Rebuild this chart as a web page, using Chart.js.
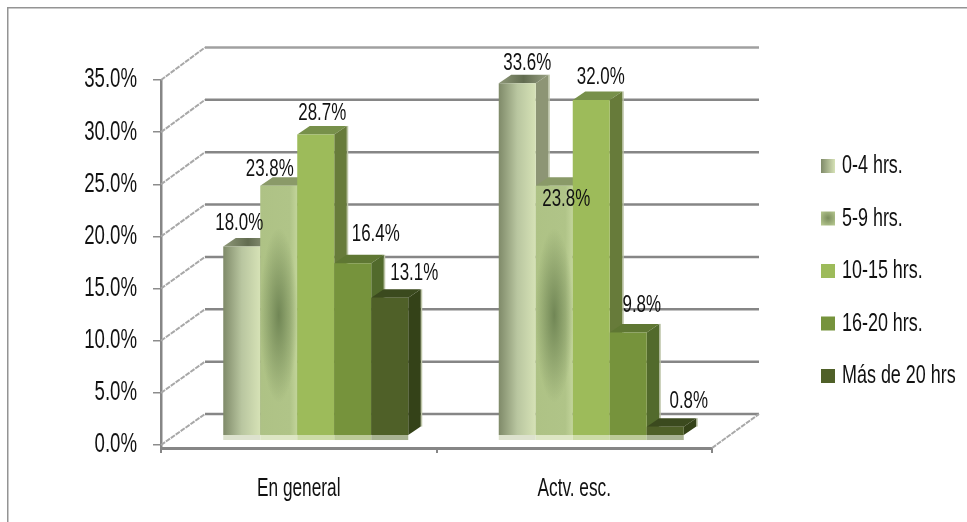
<!DOCTYPE html>
<html>
<head>
<meta charset="utf-8">
<style>
  html, body { margin: 0; padding: 0; background: #fff; }
  canvas { display: block; }
</style>
<script src="https://cdn.jsdelivr.net/npm/chart.js@4"></script>
</head>
<body>
<canvas id="chart" width="967" height="522"></canvas>
<script>
const categories = ['En general', 'Actv. esc.'];
const seriesNames = ['0-4 hrs.', '5-9 hrs.', '10-15 hrs.', '16-20 hrs.', 'Más de 20 hrs'];
const hours0to4 = [18.0, 33.6];
const hours5to9 = [23.8, 23.8];
const hours10to15 = [28.7, 32.0];
const hours16to20 = [16.4, 9.8];
const hoursOver20 = [13.1, 0.8];
const seriesValues = [hours0to4, hours5to9, hours10to15, hours16to20, hoursOver20];
const yTicks = [0, 5, 10, 15, 20, 25, 30, 35];

// face colours per series
const frontColors = ['#b7c49e', '#b0c488', '#9dbb5a', '#76933c', '#4f6028'];
const topColors = ['#77815f', '#8a9a68', '#77904a', '#5f7733', '#3b4a1e'];
const sideColors = ['#8d9575', '#8f9f6e', '#677b3a', '#526a2c', '#344218'];
const floorColors = ['#dde2ce', '#dde6c4', '#cddca7', '#bccb98', '#a9b393'];

// hand placed value labels in the original: offset from the bar's top centre
const labelNudge = [
    [[-2.5, -17], [10, -13]],
    [[-9, -10], [12, 20]],
    [[6.5, -14], [9.5, -16]],
    [[23, -22], [13.5, -20]],
    [[24.5, -18], [23.5, -19]]
];

const fontName = '"Liberation Sans"';
const textSqueeze = 0.69;
const barShiftX = 17;
const depthX = 12.5;
const depthY = 8.5;
const wallShiftX = 44;
const wallShiftY = 21;
const gridGrey = '#868686';

Chart.defaults.font.family = fontName;
Chart.defaults.color = '#111';

// the original face is narrower than any installed font
function squeezeText(ctx) {
    const fillText = ctx.fillText.bind(ctx);
    ctx.fillText = function (text, x, y) {
        // legend text sits closer to its box than Chart.js puts it
        const left = seriesNames.includes(text) ? x - 6 : x;
        ctx.save();
        ctx.translate(left, y);
        ctx.scale(textSqueeze, 1);
        fillText(text, 0, 0);
        ctx.restore();
    };
}

function barEdges(bar) {
    return { x0: bar.x - bar.width / 2, x1: bar.x + bar.width / 2 };
}

function frontFill(ctx, index, bar) {
    const { x0, x1 } = barEdges(bar);
    if (index === 0) {
        const g = ctx.createLinearGradient(x0, 0, x1, 0);
        g.addColorStop(0, '#7f8a69');
        g.addColorStop(0.5, '#b9c6a0');
        g.addColorStop(1, '#d6e2b6');
        return g;
    }
    if (index === 1) {
        const g = ctx.createLinearGradient(x0, 0, x1, 0);
        g.addColorStop(0, '#aec285');
        g.addColorStop(0.8, '#b0c488');
        g.addColorStop(1, '#c2d49a');
        return g;
    }
    return frontColors[index];
}

function drawBox(ctx, index, bar) {
    const { x0, x1 } = barEdges(bar);
    const y = bar.y;
    const base = bar.base;

    ctx.fillStyle = floorColors[index];
    ctx.fillRect(x0, base, x1 - x0, 5);

    ctx.fillStyle = '#bcc4a6';
    ctx.fillRect(x1 + depthX, y - depthY, 1.5, base - y);

    let topFill = topColors[index];
    if (index === 0) {
        topFill = ctx.createLinearGradient(x0, 0, x1 + depthX, 0);
        topFill.addColorStop(0, '#8f9979');
        topFill.addColorStop(0.5, '#626c50');
        topFill.addColorStop(1, '#98a083');
    }
    ctx.fillStyle = topFill;
    ctx.beginPath();
    ctx.moveTo(x0, y);
    ctx.lineTo(x0 + depthX, y - depthY);
    ctx.lineTo(x1 + depthX, y - depthY);
    ctx.lineTo(x1, y);
    ctx.closePath();
    ctx.fill();

    ctx.fillStyle = sideColors[index];
    ctx.beginPath();
    ctx.moveTo(x1, y);
    ctx.lineTo(x1 + depthX, y - depthY);
    ctx.lineTo(x1 + depthX, base - depthY);
    ctx.lineTo(x1, base);
    ctx.closePath();
    ctx.fill();
}

// dark soft patch in the middle of the 5-9 hrs. bars
function drawBlob(ctx, bar) {
    const { x0, x1 } = barEdges(bar);
    const midY = (bar.y + bar.base) / 2 + 5;
    const stretch = (bar.base - bar.y) * 0.35 / 19;
    ctx.save();
    ctx.beginPath();
    ctx.rect(x0, bar.y, x1 - x0, bar.base - bar.y);
    ctx.clip();
    ctx.translate(bar.x, midY);
    ctx.scale(1, stretch);
    const g = ctx.createRadialGradient(0, 0, 0, 0, 0, 19);
    g.addColorStop(0, 'rgba(106, 128, 80, 0.9)');
    g.addColorStop(1, 'rgba(106, 128, 80, 0)');
    ctx.fillStyle = g;
    ctx.fillRect(-19, -19, 38, 38);
    ctx.restore();
}

const chart3dPlugin = {
    id: 'chart3d',
    beforeInit(chart) {
        squeezeText(chart.ctx);
    },
    afterLayout(chart) {
        const legend = chart.legend;
        legend.left = 794.5;
        legend.top = 126.5;
        legend.right = 967;
        legend.bottom = 522;
    },
    // the legend rebuilds its items at the end of update, so set the swatches here
    afterUpdate(chart) {
        const legend = chart.legend;
        const ctx = chart.ctx;
        const g0 = ctx.createLinearGradient(821, 0, 835, 0);
        g0.addColorStop(0, '#7f8a69');
        g0.addColorStop(1, '#d6e2b6');
        legend.legendItems[0].fillStyle = g0;
        const g1 = ctx.createRadialGradient(828, 218, 0, 828, 218, 9);
        g1.addColorStop(0, '#7a8c5c');
        g1.addColorStop(1, '#b3c58d');
        legend.legendItems[1].fillStyle = g1;
    },
    beforeDraw(chart) {
        const ctx = chart.ctx;
        ctx.save();
        ctx.fillStyle = '#949494';
        ctx.fillRect(7, 7, 960, 1.5);
        ctx.fillRect(7, 7, 1.5, 515);
        ctx.restore();
    },
    beforeDatasetsDraw(chart) {
        const ctx = chart.ctx;
        const y = chart.scales.y;
        const y1 = chart.scales.y1;
        const area = chart.chartArea;
        ctx.save();
        yTicks.forEach(v => {
            const front = y.getPixelForValue(v);
            const back = y1.getPixelForValue(v) - wallShiftY;
            ctx.strokeStyle = '#a8a8a8';
            ctx.lineWidth = 2;
            ctx.setLineDash([5, 1]);
            ctx.beginPath();
            ctx.moveTo(area.left, front);
            ctx.lineTo(area.left + wallShiftX, back);
            ctx.stroke();
            ctx.setLineDash([]);
            ctx.strokeStyle = v === 35 ? '#a0a0a0' : gridGrey;
            ctx.lineWidth = 2.5;
            ctx.beginPath();
            ctx.moveTo(area.left + wallShiftX, back);
            ctx.lineTo(area.right + 47, back);
            ctx.stroke();
        });
        ctx.strokeStyle = '#a8a8a8';
        ctx.lineWidth = 2;
        ctx.setLineDash([5, 1]);
        ctx.beginPath();
        ctx.moveTo(area.right, area.bottom);
        ctx.lineTo(area.right + 47, y1.getPixelForValue(0) - wallShiftY);
        ctx.stroke();
        ctx.restore();
    },
    // Chart.js paints the last dataset first; these boxes have to go left to right
    beforeDatasetDraw() {
        return false;
    },
    afterDatasetsDraw(chart) {
        const ctx = chart.ctx;
        seriesValues.forEach((values, i) => {
            const meta = chart.getDatasetMeta(i);
            ctx.save();
            ctx.translate(barShiftX, 0);
            meta.data.forEach(bar => {
                drawBox(ctx, i, bar);
                bar.options = Object.assign({}, bar.options, { backgroundColor: frontFill(ctx, i, bar) });
            });
            meta.controller.draw();
            if (i === 1) {
                meta.data.forEach(bar => drawBlob(ctx, bar));
            }
            ctx.restore();
        });

        ctx.save();
        ctx.font = '24.5px ' + fontName;
        ctx.fillStyle = '#111';
        ctx.textAlign = 'center';
        ctx.textBaseline = 'alphabetic';
        seriesValues.forEach((values, i) => {
            const meta = chart.getDatasetMeta(i);
            values.forEach((value, j) => {
                const bar = meta.data[j];
                const nudge = labelNudge[i][j];
                ctx.fillText(value.toFixed(1) + '%', bar.x + barShiftX + nudge[0], bar.y + nudge[1]);
            });
        });
        ctx.restore();
    }
};

new Chart(document.getElementById('chart'), {
    type: 'bar',
    data: {
        labels: categories,
        datasets: seriesNames.map((name, i) => ({
            label: name,
            data: seriesValues[i],
            yAxisID: 'y1',
            backgroundColor: frontColors[i],
            borderWidth: 0,
            barPercentage: 1,
            categoryPercentage: 0.6715
        }))
    },
    options: {
        responsive: false,
        animation: false,
        layout: { padding: { top: 80, right: 255, left: 0, bottom: 0 } },
        scales: {
            x: {
                afterFit(scale) { scale.height = 74; },
                border: { color: gridGrey, width: 3 },
                grid: { drawOnChartArea: false, color: gridGrey, lineWidth: 2, tickLength: 5 },
                ticks: { padding: 21, font: { size: 25 }, color: '#111' }
            },
            y: {
                min: -0.29,
                max: 35,
                afterFit(scale) { scale.width = 161; },
                afterBuildTicks(scale) { scale.ticks = yTicks.map(v => ({ value: v })); },
                border: { color: gridGrey, width: 2.5 },
                grid: { drawOnChartArea: false, color: '#8c8c8c', lineWidth: 1.5, tickLength: 8 },
                ticks: {
                    padding: 16,
                    font: { size: 27 },
                    color: '#111',
                    callback: v => v.toFixed(1) + '%'
                }
            },
            // the boxes stand further back than the front axis, on their own scale
            y1: { display: false, min: -1.24, max: 33.9 }
        },
        plugins: {
            tooltip: { enabled: false },
            legend: {
                position: 'chartArea',
                align: 'start',
                labels: {
                    boxWidth: 14,
                    boxHeight: 14,
                    padding: 26.5,
                    font: { size: 26 },
                    color: '#111'
                }
            }
        }
    },
    plugins: [chart3dPlugin]
});
</script>
</body>
</html>
